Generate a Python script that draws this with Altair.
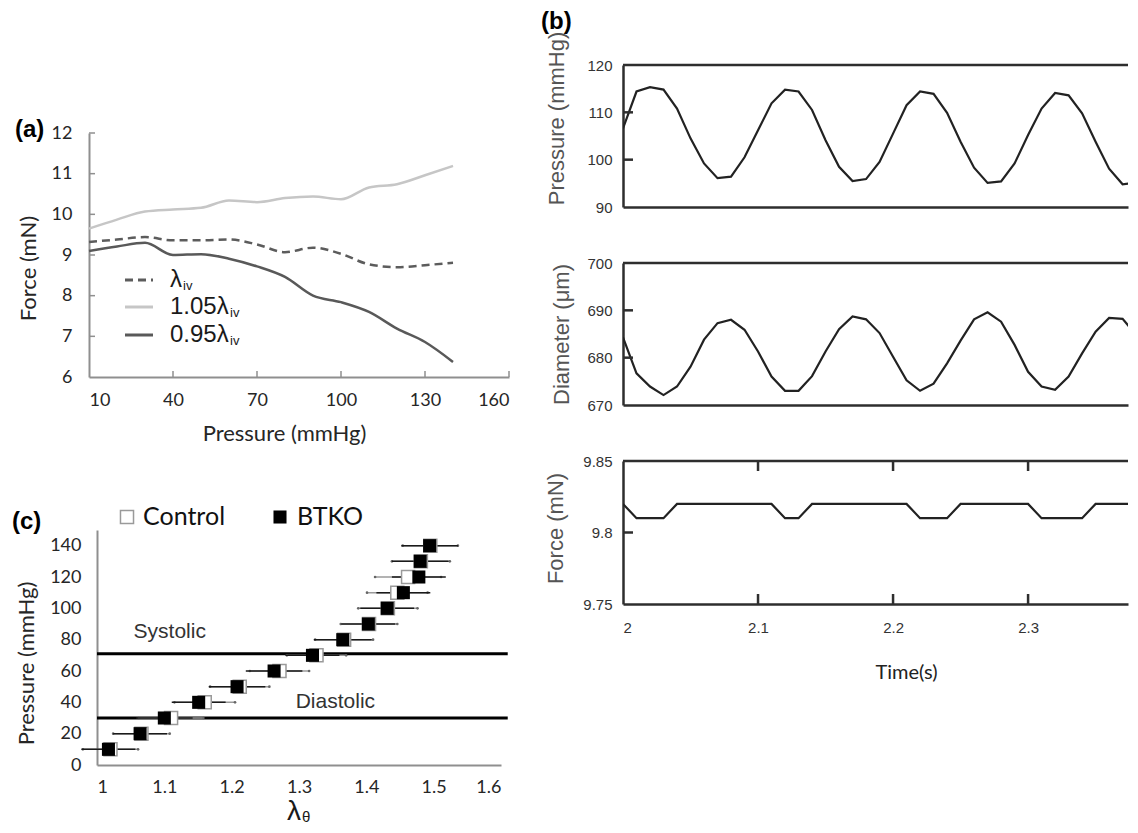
import altair as alt
import pandas as pd

# ---------------- data ----------------
# panel (a): force vs pressure
a_pressure = [10, 20, 30, 40, 50, 60, 70, 80, 90, 100, 110, 120, 130, 140]
a_force_iv = [9.32, 9.38, 9.44, 9.36, 9.36, 9.38, 9.26, 9.07, 9.18, 9.03, 8.77, 8.70, 8.75, 8.81]
a_force_105 = [9.65, 9.87, 10.07, 10.12, 10.16, 10.34, 10.30, 10.40, 10.44, 10.37, 10.66, 10.74, 10.96, 11.19]
a_force_095 = [9.10, 9.21, 9.30, 9.00, 9.02, 8.91, 8.72, 8.46, 8.00, 7.84, 7.60, 7.19, 6.86, 6.37]
a_x_ticks = [10, 40, 70, 100, 130, 160]
a_y_ticks = [6, 7, 8, 9, 10, 11, 12]
a_legend_main = ["λ", "1.05λ", "0.95λ"]
a_legend_sub = ["iv", "iv", "iv"]

# panel (b): time series
b_time = [2.00, 2.01, 2.02, 2.03, 2.04, 2.05, 2.06, 2.07, 2.08, 2.09,
          2.10, 2.11, 2.12, 2.13, 2.14, 2.15, 2.16, 2.17, 2.18, 2.19,
          2.20, 2.21, 2.22, 2.23, 2.24, 2.25, 2.26, 2.27, 2.28, 2.29,
          2.30, 2.31, 2.32, 2.33, 2.34, 2.35, 2.36, 2.37, 2.38]
b_pressure = [106.6, 114.4, 115.3, 114.8, 110.8, 104.5, 99.2, 96.1, 96.4, 100.5,
              106.2, 111.9, 114.8, 114.4, 110.5, 104.1, 98.5, 95.5, 95.9, 99.5,
              105.5, 111.5, 114.4, 113.9, 109.9, 103.8, 98.3, 95.1, 95.4, 99.2,
              105.2, 110.8, 114.1, 113.6, 109.8, 103.8, 98.1, 94.8, 95.1]
b_diameter = [684.3, 676.7, 673.9, 672.1, 673.9, 678.1, 683.8, 687.3, 688.0, 685.9,
              681.3, 676.0, 673.0, 673.0, 676.1, 681.3, 686.0, 688.7, 688.1, 685.2,
              680.2, 675.2, 673.0, 674.5, 678.8, 683.6, 688.1, 689.6, 687.6, 682.7,
              677.0, 673.9, 673.2, 676.0, 680.9, 685.5, 688.4, 688.2, 684.8]
b_force = [9.82, 9.81, 9.81, 9.81, 9.82, 9.82, 9.82, 9.82, 9.82, 9.82,
           9.82, 9.82, 9.81, 9.81, 9.82, 9.82, 9.82, 9.82, 9.82, 9.82,
           9.82, 9.82, 9.81, 9.81, 9.81, 9.82, 9.82, 9.82, 9.82, 9.82,
           9.82, 9.81, 9.81, 9.81, 9.81, 9.82, 9.82, 9.82, 9.82]
b_x_ticks = [2, 2.1, 2.2, 2.3]
b_pressure_ticks = [90, 100, 110, 120]
b_diameter_ticks = [670, 680, 690, 700]
b_force_ticks = [9.75, 9.8, 9.85]

# panel (c): lambda_theta vs pressure
c_pressure = [10, 20, 30, 40, 50, 60, 70, 80, 90, 100, 110, 120, 130, 140]
c_control = [1.020, 1.066, 1.110, 1.160, 1.212, 1.271, 1.326, 1.367, 1.404, 1.432, 1.446, 1.462, 1.481, 1.495]
c_control_err = [0.041, 0.042, 0.048, 0.045, 0.044, 0.044, 0.044, 0.043, 0.042, 0.044, 0.045, 0.049, 0.043, 0.041]
c_btko = [1.017, 1.064, 1.100, 1.151, 1.208, 1.263, 1.320, 1.365, 1.403, 1.431, 1.455, 1.478, 1.480, 1.494]
c_btko_err = [0.040, 0.040, 0.042, 0.040, 0.042, 0.042, 0.040, 0.043, 0.040, 0.040, 0.040, 0.040, 0.042, 0.042]
c_ref_pressure = [71, 30]
c_ref_labels = ["Systolic", "Diastolic"]
c_ref_label_lam = [1.108, 1.354]
c_ref_label_p = [85, 40.4]
c_x_ticks = [1, 1.1, 1.2, 1.3, 1.4, 1.5, 1.6]
c_y_ticks = [0, 20, 40, 60, 80, 100, 120, 140]

# ---------------- styles ----------------
LATO = "Lato"
ARIAL = "Liberation Sans"
GRAYAX = "#8f8f8f"
BOX = "#2e2e2e"
W_A, H_A = 420, 244
W_C, H_C = 404, 235
W_B = 505
one_row = pd.DataFrame({"k": [0]})


def spacer(h):
    return alt.Chart(one_row).mark_point(opacity=0).encode(
        x=alt.value(0), y=alt.value(h / 2)
    ).properties(width=1, height=h)


# ---------------- panel (a) ----------------
def xa():
    return alt.X("p:Q", scale=alt.Scale(domain=[10, 160], nice=False, zero=False),
                 axis=alt.Axis(values=a_x_ticks, format="~r", title="Pressure (mmHg)", grid=False, ticks=False,
                               domainColor=GRAYAX, domainWidth=2,
                               labelFont=LATO, labelFontSize=18, labelColor="#262626", labelPadding=14,
                               titleFont=LATO, titleFontSize=22, titleFontWeight="normal",
                               titleColor="#262626", titleX=195, titleY=56, titleBaseline="middle"))


def ya():
    return alt.Y("f:Q", scale=alt.Scale(domain=[6, 12], nice=False, zero=False),
                 axis=alt.Axis(values=a_y_ticks, format="~r", title="Force  (mN)", grid=False, ticks=False,
                               domainColor=GRAYAX, domainWidth=2,
                               labelFont=LATO, labelFontSize=18, labelColor="#262626", labelPadding=17,
                               titleFont=LATO, titleFontSize=22, titleFontWeight="normal",
                               titleColor="#262626", titleX=-61, titleY=135, titleBaseline="middle"))


a_styles = [dict(color="#5c5c5c", strokeDash=[8, 5]), dict(color="#c6c6c6"), dict(color="#595959")]
a_series = [a_force_iv, a_force_105, a_force_095]

a_layers = [
    alt.Chart(pd.DataFrame({"f": a_y_ticks[1:]})).mark_rule(color=GRAYAX, strokeWidth=1.5).encode(
        y=ya(), x=alt.value(0), x2=alt.value(6)),
    alt.Chart(pd.DataFrame({"p": a_x_ticks[1:]})).mark_rule(color=GRAYAX, strokeWidth=1.5).encode(
        x=xa(), y=alt.value(H_A), y2=alt.value(H_A - 6)),
]
for idx in [1, 0, 2]:
    df = pd.DataFrame({"p": a_pressure, "f": a_series[idx]})
    a_layers.append(alt.Chart(df).mark_line(strokeWidth=2.5, interpolate="monotone", **a_styles[idx]).encode(
        x=xa(), y=ya()))

legend_y = [147, 174, 202]
sub_dx = [13, 60, 60]
for i in range(3):
    a_layers.append(alt.Chart(one_row).mark_rule(strokeWidth=3, **a_styles[i]).encode(
        x=alt.value(36), x2=alt.value(64), y=alt.value(legend_y[i])))
    a_layers.append(alt.Chart(one_row).mark_text(text=a_legend_main[i], align="left", baseline="middle",
                                                   font=ARIAL, fontSize=24, color="#1a1a1a").encode(
        x=alt.value(81), y=alt.value(legend_y[i])))
    a_layers.append(alt.Chart(one_row).mark_text(text=a_legend_sub[i], align="left", baseline="middle",
                                                   font=ARIAL, fontSize=13, color="#1a1a1a").encode(
        x=alt.value(81 + sub_dx[i]), y=alt.value(legend_y[i] + 6)))

a_layers.append(alt.Chart(one_row).mark_text(text="(a)", align="left", baseline="middle", font=ARIAL,
                                               fontSize=24, fontWeight="bold", color="black").encode(
    x=alt.value(-74), y=alt.value(-3)))
# invisible layout anchor
a_layers.append(alt.Chart(one_row).mark_rule(opacity=0).encode(
    x=alt.value(-81), x2=alt.value(440), y=alt.value(100)))

chart_a = alt.layer(*a_layers).properties(width=W_A, height=H_A)


# ---------------- panel (c) ----------------
def xc(field):
    return alt.X(f"{field}:Q", scale=alt.Scale(domain=[1, 1.6], nice=False, zero=False),
                 axis=alt.Axis(values=c_x_ticks, format="~r", title=None, grid=False, ticks=False,
                               domainColor=GRAYAX, domainWidth=2,
                               labelFont=LATO, labelFontSize=18, labelColor="#262626", labelPadding=13))


def yc():
    return alt.Y("p:Q", scale=alt.Scale(domain=[0, 150], nice=False, zero=False),
                 axis=alt.Axis(values=c_y_ticks, format="~r", title="Pressure (mmHg)", grid=False, ticks=False,
                               domainColor=GRAYAX, domainWidth=2,
                               labelFont=LATO, labelFontSize=18, labelColor="#262626", labelPadding=16,
                               titleFont=LATO, titleFontSize=22, titleFontWeight="normal",
                               titleColor="#262626", titleX=-71, titleY=133, titleBaseline="middle"))


df_ctrl = pd.DataFrame({"p": c_pressure, "lam": c_control,
                        "lo": [m - e for m, e in zip(c_control, c_control_err)],
                        "hi": [m + e for m, e in zip(c_control, c_control_err)]})
df_btko = pd.DataFrame({"p": c_pressure, "lam": c_btko,
                        "lo": [m - e for m, e in zip(c_btko, c_btko_err)],
                        "hi": [m + e for m, e in zip(c_btko, c_btko_err)]})
df_ref = pd.DataFrame({"p": c_ref_pressure, "lam": [1.0, 1.0], "lam2": [1.61, 1.61]})
df_ref_txt = pd.DataFrame({"p": c_ref_label_p, "lam": c_ref_label_lam, "label": c_ref_labels})

c_layers = [
    alt.Chart(df_ref).mark_rule(color="black", strokeWidth=3).encode(x=xc("lam"), x2="lam2:Q", y=yc()),
    alt.Chart(df_ctrl).mark_rule(color="#9a9a9a", strokeWidth=1.5).encode(x=xc("lo"), x2="hi:Q", y=yc()),
    alt.Chart(df_ctrl).mark_circle(size=7, color="#666666", opacity=1).encode(x=xc("lo"), y=yc()),
    alt.Chart(df_ctrl).mark_circle(size=7, color="#666666", opacity=1).encode(x=xc("hi"), y=yc()),
    alt.Chart(df_btko).mark_rule(color="#1a1a1a", strokeWidth=1.5).encode(x=xc("lo"), x2="hi:Q", y=yc()),
    alt.Chart(df_ctrl).mark_square(size=170, filled=True, fill="white", stroke="#9a9a9a",
                                   strokeWidth=1.5, opacity=1).encode(x=xc("lam"), y=yc()),
    alt.Chart(df_btko).mark_square(size=170, filled=True, color="black", opacity=1).encode(
        x=xc("lam"), y=yc()),
    alt.Chart(df_ref_txt).mark_text(font=ARIAL, fontSize=21, color="#333333").encode(
        x=xc("lam"), y=yc(), text="label:N"),
    # legend
    alt.Chart(one_row).mark_square(size=170, filled=True, fill="white", stroke="#9a9a9a",
                                   strokeWidth=1.5, opacity=1).encode(x=alt.value(30), y=alt.value(-13)),
    alt.Chart(one_row).mark_text(text="Control", align="left", baseline="middle", font=LATO,
                                 fontSize=25, color="#111111").encode(x=alt.value(46), y=alt.value(-13)),
    alt.Chart(one_row).mark_square(size=170, filled=True, color="black", opacity=1).encode(
        x=alt.value(183), y=alt.value(-13)),
    alt.Chart(one_row).mark_text(text="BTKO", align="left", baseline="middle", font=LATO,
                                 fontSize=25, color="#111111").encode(x=alt.value(200), y=alt.value(-13)),
    alt.Chart(one_row).mark_text(text="(c)", align="left", baseline="middle", font=ARIAL,
                                 fontSize=24, fontWeight="bold", color="black").encode(
        x=alt.value(-85), y=alt.value(-8)),
    # x-axis title lambda_theta
    alt.Chart(one_row).mark_text(text="λ", align="center", baseline="alphabetic", font=ARIAL,
                                 fontSize=28, color="#1a1a1a").encode(x=alt.value(197), y=alt.value(290)),
    alt.Chart(one_row).mark_text(text="θ", align="left", baseline="alphabetic", font=ARIAL,
                                 fontSize=15, color="#1a1a1a").encode(x=alt.value(205), y=alt.value(292)),
]
chart_c = alt.layer(*c_layers).properties(width=W_C, height=H_C)


# ---------------- panel (b) ----------------
def xb(show):
    if show:
        axis = alt.Axis(values=b_x_ticks, format="~r", grid=False, ticks=False, domainColor=BOX,
                        domainWidth=2.5, labelFont=ARIAL, labelFontSize=15, labelColor="#333333",
                        labelPadding=16, title="Time(s)", titleFont=LATO, titleFontSize=20,
                        titleFontWeight="normal", titleColor="#222222", titleX=283, titleY=68,
                        titleBaseline="middle")
    else:
        axis = alt.Axis(labels=False, ticks=False, grid=False, domainColor=BOX, domainWidth=2.5, title=None)
    return alt.X("t:Q", scale=alt.Scale(domain=[2, 2.374], nice=False, zero=False), axis=axis)


def yb(domain, values, title, tx, ty):
    return alt.Y("v:Q", scale=alt.Scale(domain=domain, nice=False, zero=False),
                 axis=alt.Axis(values=values, format="~r", grid=False, ticks=False, domainColor=BOX,
                               domainWidth=2.5, labelFont=ARIAL, labelFontSize=15, labelColor="#333333",
                               labelPadding=11, title=title, titleFont=ARIAL, titleFontSize=22,
                               titleFontWeight="normal", titleColor="#555555", titleX=tx, titleY=ty,
                               titleBaseline="middle"))


def b_panel(vals, domain, yticks, inner_y, title, tx, ty, h, show_x, extras):
    df = pd.DataFrame({"t": b_time, "v": vals})
    layers = [
        alt.Chart(df).mark_line(color="#222222", strokeWidth=2.2, clip=True).encode(
            x=xb(show_x), y=yb(domain, yticks, title, tx, ty)),
        alt.Chart(one_row).mark_rule(color=BOX, strokeWidth=2.5).encode(
            x=alt.value(0), x2=alt.value(W_B), y=alt.value(0)),
        alt.Chart(pd.DataFrame({"v": inner_y})).mark_rule(color=BOX, strokeWidth=2.5).encode(
            y=yb(domain, yticks, title, tx, ty), x=alt.value(0), x2=alt.value(10)),
    ] + extras
    return alt.layer(*layers).properties(width=W_B, height=h)


b1_extras = [
    alt.Chart(one_row).mark_text(text="(b)", align="left", baseline="top", font=ARIAL, fontSize=24,
                                 fontWeight="bold", color="black").encode(x=alt.value(-82), y=alt.value(-55)),
    alt.Chart(one_row).mark_rule(opacity=0).encode(x=alt.value(-90), x2=alt.value(-80), y=alt.value(-57)),
]
b3_extras = [
    alt.Chart(pd.DataFrame({"t": b_x_ticks[1:]})).mark_rule(color=BOX, strokeWidth=2.5).encode(
        x=xb(True), y=alt.value(143), y2=alt.value(133)),
    alt.Chart(pd.DataFrame({"t": b_x_ticks[1:]})).mark_rule(color=BOX, strokeWidth=2.5).encode(
        x=xb(True), y=alt.value(0), y2=alt.value(10)),
]

b1 = b_panel(b_pressure, [90, 120], b_pressure_ticks, [100, 110], "Pressure (mmHg)", -67, 53, 142, False, b1_extras)
b2 = b_panel(b_diameter, [670, 700], b_diameter_ticks, [680, 690], "Diameter (μm)", -62, 71, 142, False, [])
b3 = b_panel(b_force, [9.75, 9.85], b_force_ticks, [9.8], "Force (mN)", -68, 67, 143, True, b3_extras)

left = alt.vconcat(spacer(68), chart_a, spacer(153), chart_c, spacing=0, bounds="flush", center=True)
right = alt.vconcat(b1, b2, b3, spacing=56, bounds="flush")

chart = alt.hconcat(left, right, spacing=4).properties(padding=0, background="white").configure_view(stroke=None)

chart.save("out.html", embed_options={"renderer": "svg", "actions": False})
